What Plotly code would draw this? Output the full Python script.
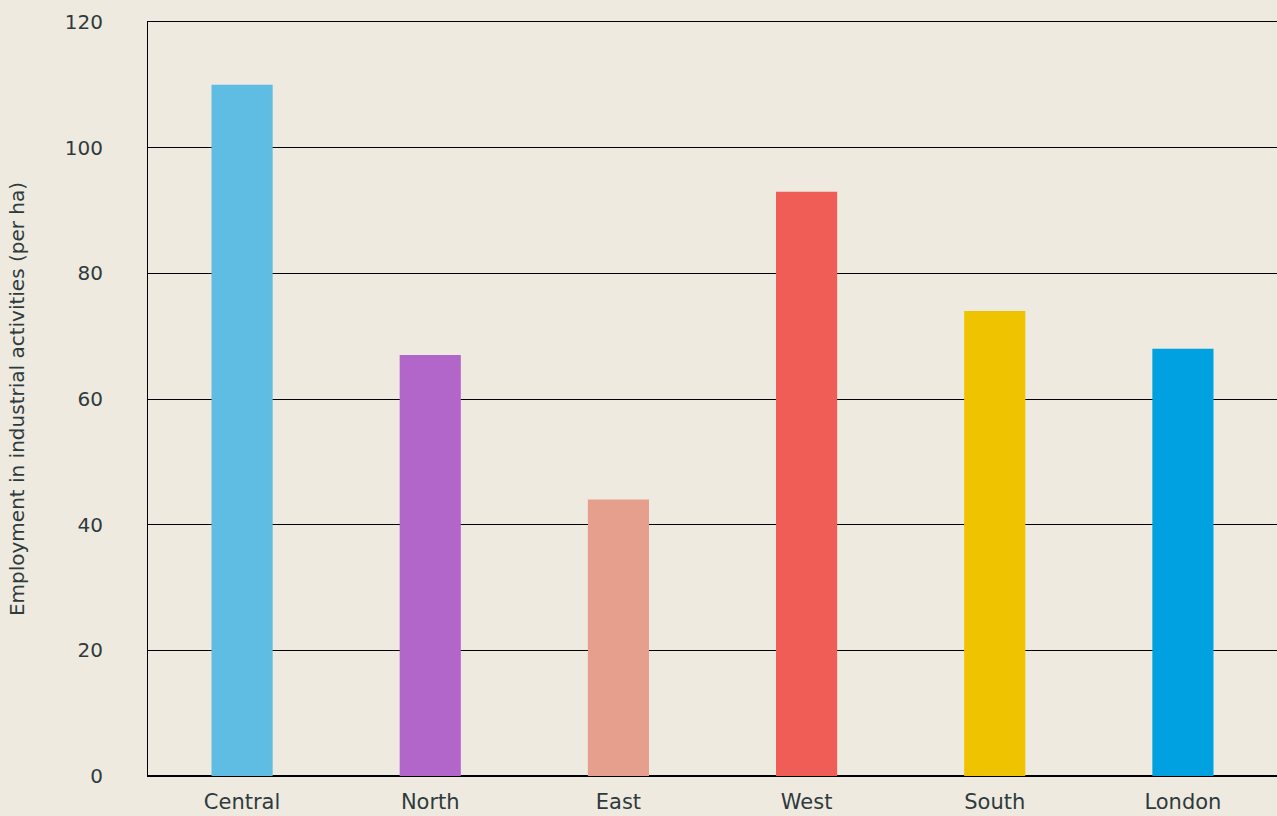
import plotly.graph_objects as go

regions = ["Central", "North", "East", "West", "South", "London"]
employment = [110, 67, 44, 93, 74, 68]
colors = ["#5FBCE2", "#B366C9", "#E59F8C", "#F05D57", "#F0C300", "#00A1E0"]
y_ticks = [0, 20, 40, 60, 80, 100, 120]

bg = "#EEEAE0"
text_color = "#2F3A3D"
font_family = "DejaVu Sans, Arial, sans-serif"

fig = go.Figure(
    go.Bar(
        x=regions,
        y=employment,
        marker=dict(color=colors, line=dict(width=0)),
        hoverinfo="x+y",
    )
)

fig.update_layout(
    width=1277,
    height=816,
    paper_bgcolor=bg,
    plot_bgcolor=bg,
    margin=dict(l=148, r=0, t=22, b=40, pad=0),
    bargap=0.675,
    showlegend=False,
    font=dict(family=font_family, color=text_color, size=20),
)

# top frame line at 120 via mirrored x axis line, kept under the bars
fig.update_xaxes(
    automargin=False,
    showgrid=False,
    showline=True,
    mirror=True,
    linecolor="#000000",
    linewidth=1,
    layer="below traces",
    ticks="",
    tickfont=dict(size=21, color=text_color),
    ticklabelstandoff=7,
)

fig.update_yaxes(
    automargin=False,
    range=[0, 120],
    tickvals=y_ticks,
    showgrid=True,
    gridcolor="#000000",
    gridwidth=1,
    zeroline=True,
    zerolinecolor="#000000",
    zerolinewidth=2,
    showline=True,
    linecolor="#000000",
    linewidth=1,
    ticks="",
    tickfont=dict(size=20, color=text_color),
    ticklabelstandoff=40,
    title=dict(
        text="Employment in industrial activities (per ha)",
        font=dict(size=20, color=text_color),
        standoff=34,
    ),
)

fig.write_html("out.html")
